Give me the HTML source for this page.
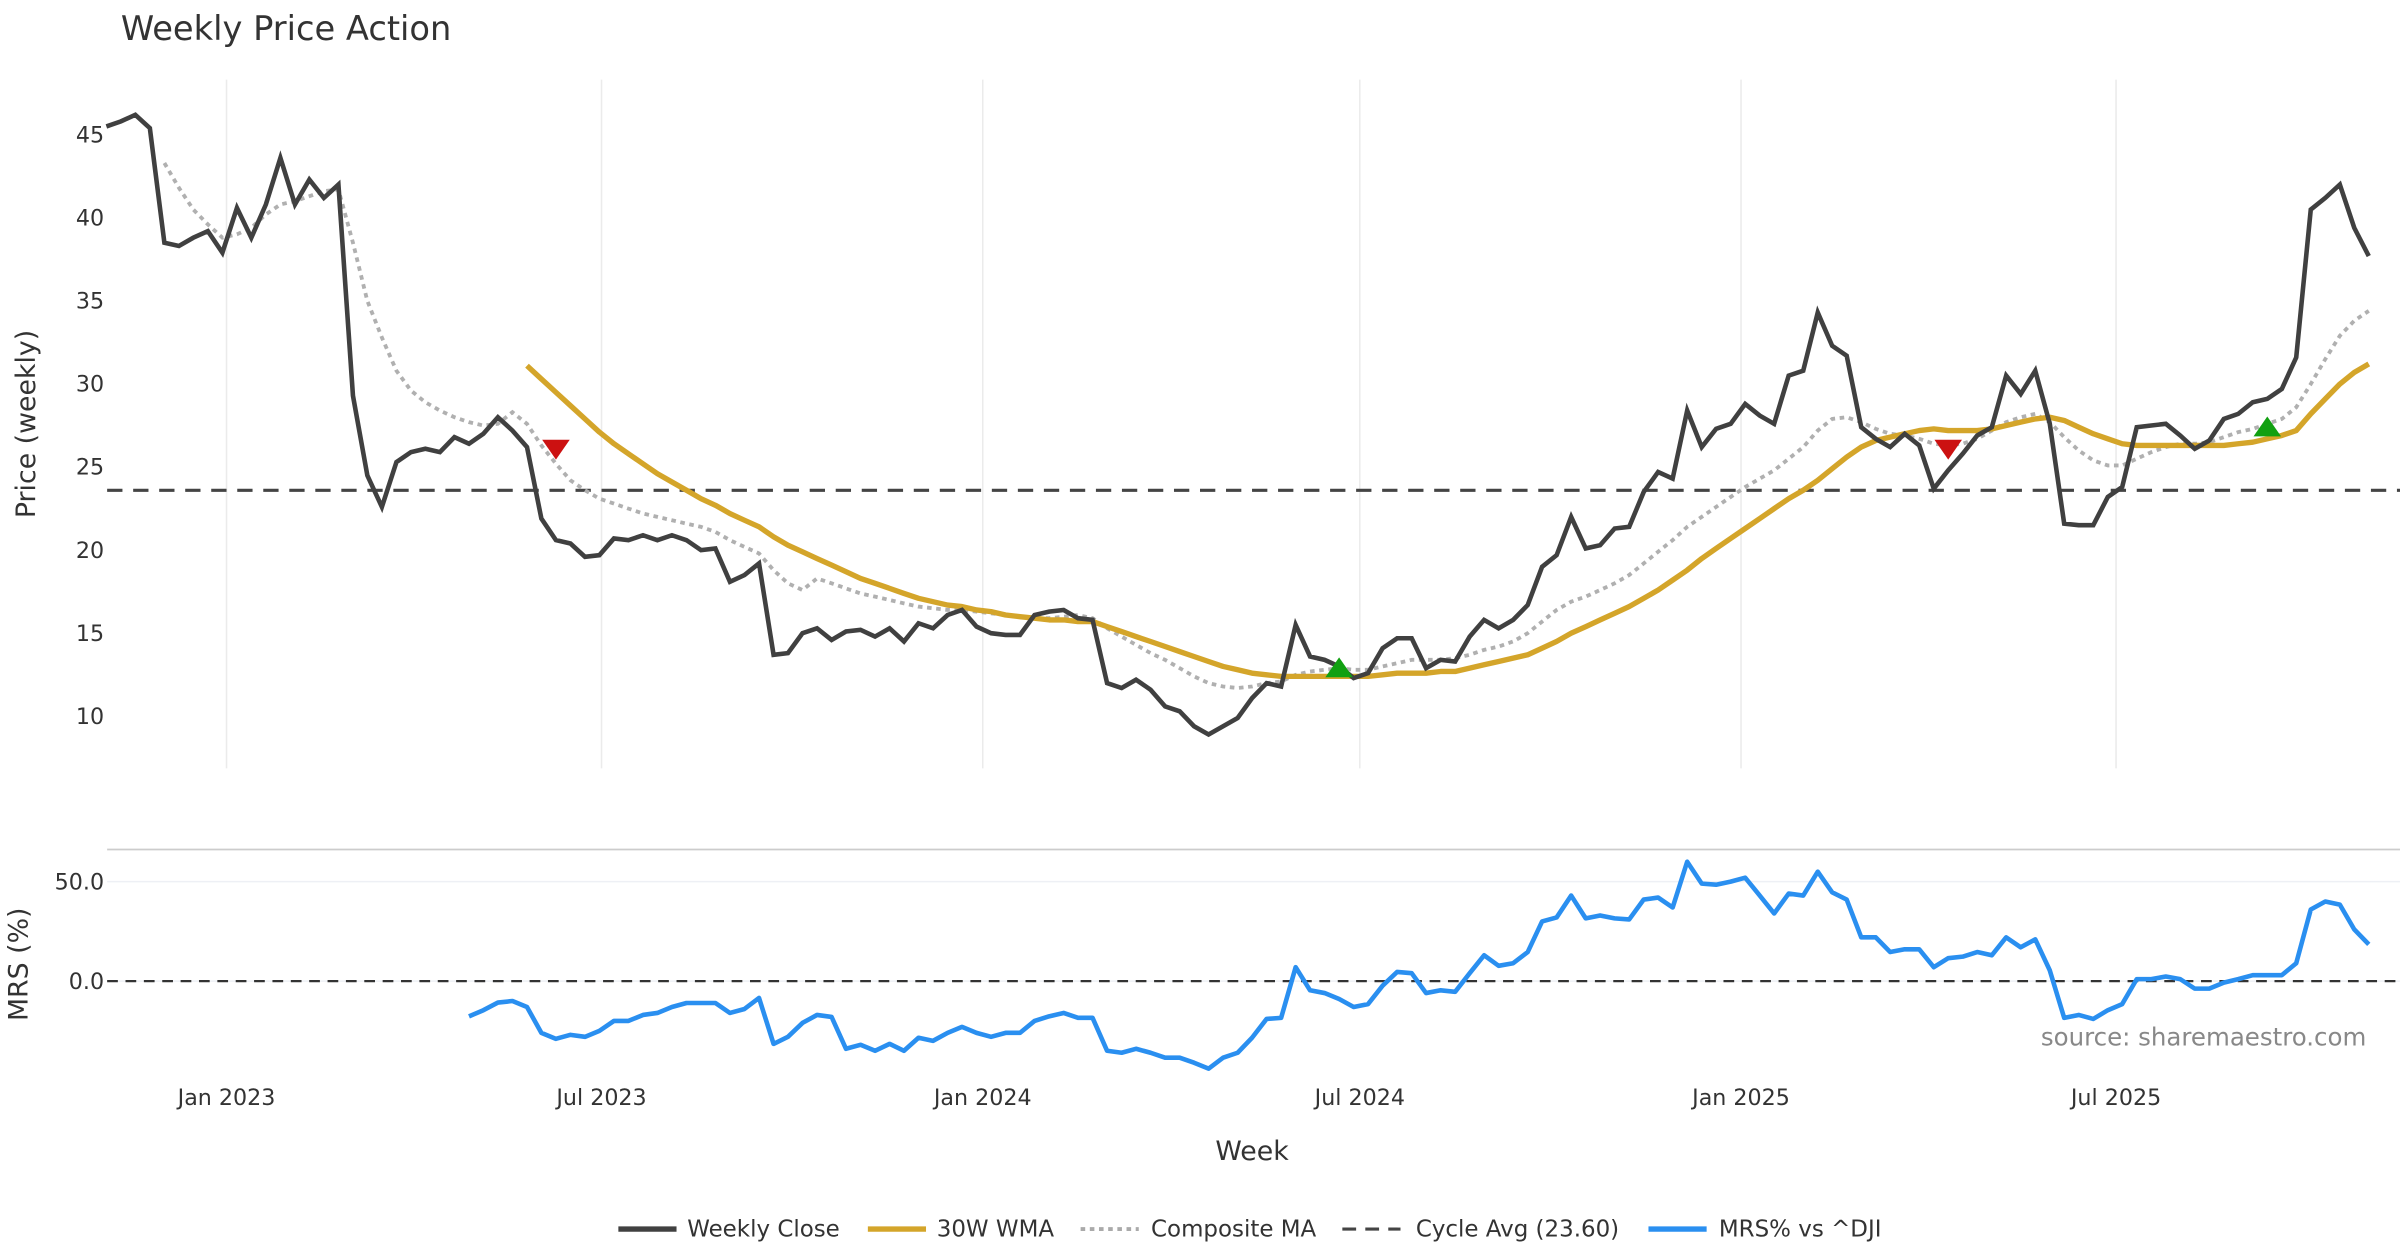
<!DOCTYPE html>
<html><head><meta charset="utf-8"><style>
html,body{margin:0;padding:0;background:#fff;}
svg{display:block;font-family:"DejaVu Sans","Liberation Sans",sans-serif;}
</style></head><body>
<svg id="chart" width="2400" height="1260" viewBox="0 0 1568 823.2" preserveAspectRatio="none" xmlns="http://www.w3.org/2000/svg">
<text x="79" y="26" font-size="22" fill="#333">Weekly Price Action</text>
<g id="grid"></g>
<g id="price"></g>
<g id="mrs"></g>
<g id="axes"></g>
<text transform="translate(23,277) rotate(-90)" text-anchor="middle" font-size="17.5" fill="#333">Price (weekly)</text>
<text transform="translate(18,630) rotate(-90)" text-anchor="middle" font-size="17.5" fill="#333">MRS (%)</text>
<text x="818" y="758" text-anchor="middle" font-size="17.5" fill="#333">Week</text>
<text x="1546" y="683" text-anchor="end" font-size="16" fill="#888">source: sharemaestro.com</text>
<g font-size="15" fill="#333">
 <g><line x1="404" y1="803" x2="442" y2="803" stroke="#404040" stroke-width="3.5"/><text x="449" y="808">Weekly Close</text></g>
 <g><line x1="567" y1="803" x2="605" y2="803" stroke="#d4a52a" stroke-width="3.5"/><text x="612" y="808">30W WMA</text></g>
 <g><line x1="706" y1="803" x2="744" y2="803" stroke="#aaa" stroke-width="2.5" stroke-dasharray="3,3"/><text x="752" y="808">Composite MA</text></g>
 <g><line x1="877" y1="803" x2="915" y2="803" stroke="#444" stroke-width="2" stroke-dasharray="9,6"/><text x="925" y="808">Cycle Avg (23.60)</text></g>
 <g><line x1="1077" y1="803" x2="1115" y2="803" stroke="#2a8ff0" stroke-width="3.5"/><text x="1123" y="808">MRS% vs ^DJI</text></g>
</g>
</svg>
<script>
const closeVals=[45.5,45.8,46.2,45.4,38.5,38.3,38.8,39.2,37.9,40.6,38.8,40.8,43.6,40.8,42.3,41.2,42.0,29.3,24.5,22.6,25.3,25.9,26.1,25.9,26.8,26.4,27.0,28.0,27.2,26.2,21.9,20.6,20.4,19.6,19.7,20.7,20.6,20.9,20.6,20.9,20.6,20.0,20.1,18.1,18.5,19.2,13.7,13.8,15.0,15.3,14.6,15.1,15.2,14.8,15.3,14.5,15.6,15.3,16.1,16.4,15.4,15.0,14.9,14.9,16.1,16.3,16.4,15.9,15.8,12.0,11.7,12.2,11.6,10.6,10.3,9.4,8.9,9.4,9.9,11.1,12.0,11.8,15.5,13.6,13.4,13.0,12.3,12.6,14.1,14.7,14.7,12.9,13.4,13.3,14.8,15.8,15.3,15.8,16.7,19.0,19.7,22.0,20.1,20.3,21.3,21.4,23.5,24.7,24.3,28.4,26.2,27.3,27.6,28.8,28.1,27.6,30.5,30.8,34.3,32.3,31.7,27.4,26.7,26.2,27.0,26.3,23.7,24.8,25.8,26.9,27.4,30.5,29.4,30.8,27.6,21.6,21.5,21.5,23.2,23.8,27.4,27.5,27.6,26.9,26.1,26.6,27.9,28.2,28.9,29.1,29.7,31.6,40.5,41.2,42.0,39.4,37.7];
const wmaStart=29;
const wmaVals=[31.1,30.3,29.5,28.7,27.9,27.1,26.4,25.8,25.2,24.6,24.1,23.6,23.1,22.7,22.2,21.8,21.4,20.8,20.3,19.9,19.5,19.1,18.7,18.3,18.0,17.7,17.4,17.1,16.9,16.7,16.6,16.4,16.3,16.1,16.0,15.9,15.8,15.8,15.7,15.7,15.4,15.1,14.8,14.5,14.2,13.9,13.6,13.3,13.0,12.8,12.6,12.5,12.4,12.4,12.4,12.4,12.4,12.4,12.4,12.5,12.6,12.6,12.6,12.7,12.7,12.9,13.1,13.3,13.5,13.7,14.1,14.5,15.0,15.4,15.8,16.2,16.6,17.1,17.6,18.2,18.8,19.5,20.1,20.7,21.3,21.9,22.5,23.1,23.6,24.2,24.9,25.6,26.2,26.6,26.8,27.0,27.2,27.3,27.2,27.2,27.2,27.3,27.5,27.7,27.9,28.0,27.8,27.4,27.0,26.7,26.4,26.3,26.3,26.3,26.3,26.3,26.3,26.3,26.4,26.5,26.7,26.9,27.2,28.2,29.1,30.0,30.7,31.2];
const compStart=4;
const compVals=[43.3,41.8,40.5,39.6,38.8,39.0,39.4,40.2,40.8,41.0,41.3,41.6,41.7,38.5,35.0,32.8,30.8,29.6,28.9,28.4,28.0,27.7,27.5,27.6,28.3,27.6,26.3,25.2,24.2,23.6,23.1,22.8,22.5,22.2,22.0,21.8,21.6,21.4,21.1,20.6,20.2,19.8,18.8,18.0,17.6,18.3,18.0,17.7,17.4,17.2,17.0,16.8,16.6,16.5,16.4,16.4,16.3,16.2,16.1,16.0,15.9,15.9,16.0,16.1,15.9,15.3,14.8,14.3,13.8,13.4,12.9,12.4,12.0,11.8,11.7,11.8,12.0,12.1,12.5,12.7,12.8,12.9,12.8,12.8,13.0,13.2,13.4,13.4,13.4,13.5,13.7,14.0,14.2,14.5,15.0,15.7,16.4,16.9,17.2,17.6,18.0,18.5,19.2,19.9,20.6,21.4,22.0,22.6,23.2,23.8,24.3,24.8,25.5,26.2,27.2,27.9,28.0,27.7,27.3,27.0,26.9,26.7,26.4,26.3,26.4,26.7,27.2,27.7,28.0,28.2,27.7,26.8,26.0,25.4,25.1,25.1,25.5,25.9,26.2,26.4,26.4,26.5,26.8,27.1,27.3,27.6,27.9,28.6,30.0,31.5,32.9,33.8,34.4];
const mrsStart=25;
const mrsVals=[-17.7,-14.6,-10.8,-10,-13,-26,-29,-27,-28,-25,-20,-20,-17,-16,-13,-11,-11,-11,-16,-14,-8.5,-31.5,-28,-21,-17,-18,-34,-32,-35,-31.5,-35,-28.5,-30,-26,-23,-26,-28,-26,-26,-20,-17.7,-16,-18.5,-18.5,-35,-36,-34,-36,-38.5,-38.5,-41,-44,-38.5,-36,-28.5,-19,-18.5,7,-4.6,-6,-9,-13,-11.5,-2.3,4.6,4,-6,-4.6,-5.4,4,13,7.7,9,14.6,30,32,43,31.5,33,31.5,31,41,42,37,60,49,48.5,50,52,43,34,44,43,55,44.6,41,22,22,14.6,16,16,7,11.5,12.3,14.6,13,22,17,21,5.4,-18.5,-17,-19,-14.6,-11.5,1,1,2.3,1,-3.8,-3.8,-0.8,1,3,3,3,9,36,40,38.5,26,18.5];
const cycleAvg=23.6;
const sellIdx=[31,127];
const sellVals=[26.0,26.0];
const buyIdx=[85,149];
const buyVals=[12.9,27.4];
const priceTicks=[10,15,20,25,30,35,40,45];
const mrsTicks=[0,50];
const mrsTickLabels=["0.0","50.0"];
const xTickLabels=["Jan 2023","Jul 2023","Jan 2024","Jul 2024","Jan 2025","Jul 2025"];
const xTickDates=["2023-01-01","2023-07-01","2024-01-01","2024-07-01","2025-01-01","2025-07-01"];
const startDate="2022-11-04";

const NS="http://www.w3.org/2000/svg";
const DAY=86400000, ref=Date.UTC(2023,0,1);
function xDate(s){const d=Date.parse(s+"T00:00:00Z");return 148+(d-ref)/DAY*1.3536;}
const x0=xDate(startDate);
function xi(i){return x0+i*7*1.3536;}
function yP(v){return 88+(45-v)*10.857;}
function yM(v){return 641-v*1.3;}
function mk(tag,attrs,parent){const e=document.createElementNS(NS,tag);for(const k in attrs)e.setAttribute(k,attrs[k]);parent.appendChild(e);return e;}
const grid=document.getElementById('grid'),price=document.getElementById('price'),mrs=document.getElementById('mrs'),axes=document.getElementById('axes');

xTickDates.forEach((d,k)=>{const x=xDate(d);
 const g=mk('line',{x1:x,x2:x,y1:52,y2:502,stroke:'#ebebeb','stroke-width':1},grid);
 
 
 const t=mk('text',{x:x,y:722,'text-anchor':'middle','font-size':14.5,fill:'#333'},axes);t.textContent=xTickLabels[k];
 
 
});
priceTicks.forEach(v=>{const t=mk('text',{x:68,y:yP(v)+5,'text-anchor':'end','font-size':14.5,fill:'#333'},axes);t.textContent=v;
 
 
});
const sep=mk('line',{x1:70,x2:1568,y1:555,y2:555,stroke:'#ccc','stroke-width':1.2},grid);


mrsTicks.forEach((v,k)=>{
 const g=mk('line',{x1:70,x2:1568,y1:yM(v),y2:yM(v),stroke:'#eef0f5','stroke-width':1},grid);
 
 
 const t=mk('text',{x:68,y:yM(v)+5,'text-anchor':'end','font-size':14.5,fill:'#333'},axes);t.textContent=mrsTickLabels[k];
 
 
});
const z=mk('line',{x1:70,x2:1568,y1:yM(0),y2:yM(0),stroke:'#333','stroke-width':1.5,'stroke-dasharray':'7,5'},mrs);



function pts(vals,start,yf){return vals.map((v,k)=>xi(start+k).toFixed(1)+','+yf(v).toFixed(1)).join(' ');}
const ca=mk('line',{x1:70,x2:1568,y1:yP(cycleAvg),y2:yP(cycleAvg),stroke:'#444','stroke-width':2,'stroke-dasharray':'10,7'},price);


const cm=mk('polyline',{points:pts(compVals,compStart,yP),fill:'none',stroke:'#b0b0b0','stroke-width':2.5,'stroke-dasharray':'3,3'},price);


const wm=mk('polyline',{points:pts(wmaVals,wmaStart,yP),fill:'none',stroke:'#d4a52a','stroke-width':3.5,'stroke-linejoin':'round'},price);


const cl=mk('polyline',{points:pts(closeVals,0,yP),fill:'none',stroke:'#404040','stroke-width':3,'stroke-linejoin':'miter'},price);


sellIdx.forEach((i,k)=>{const x=xi(i),y=yP(sellVals[k]);
 const p=mk('polygon',{points:`${x-9},${y-7} ${x+9},${y-7} ${x},${y+6}`,fill:'#cc1111'},price);
 
 
});
buyIdx.forEach((i,k)=>{const x=xi(i),y=yP(buyVals[k]);
 const p=mk('polygon',{points:`${x-9},${y+6} ${x+9},${y+6} ${x},${y-7}`,fill:'#11a011'},price);
 
 
});
const ml=mk('polyline',{points:pts(mrsVals,mrsStart,yM),fill:'none',stroke:'#2a8ff0','stroke-width':3,'stroke-linejoin':'round'},mrs);


</script>
</body></html>
